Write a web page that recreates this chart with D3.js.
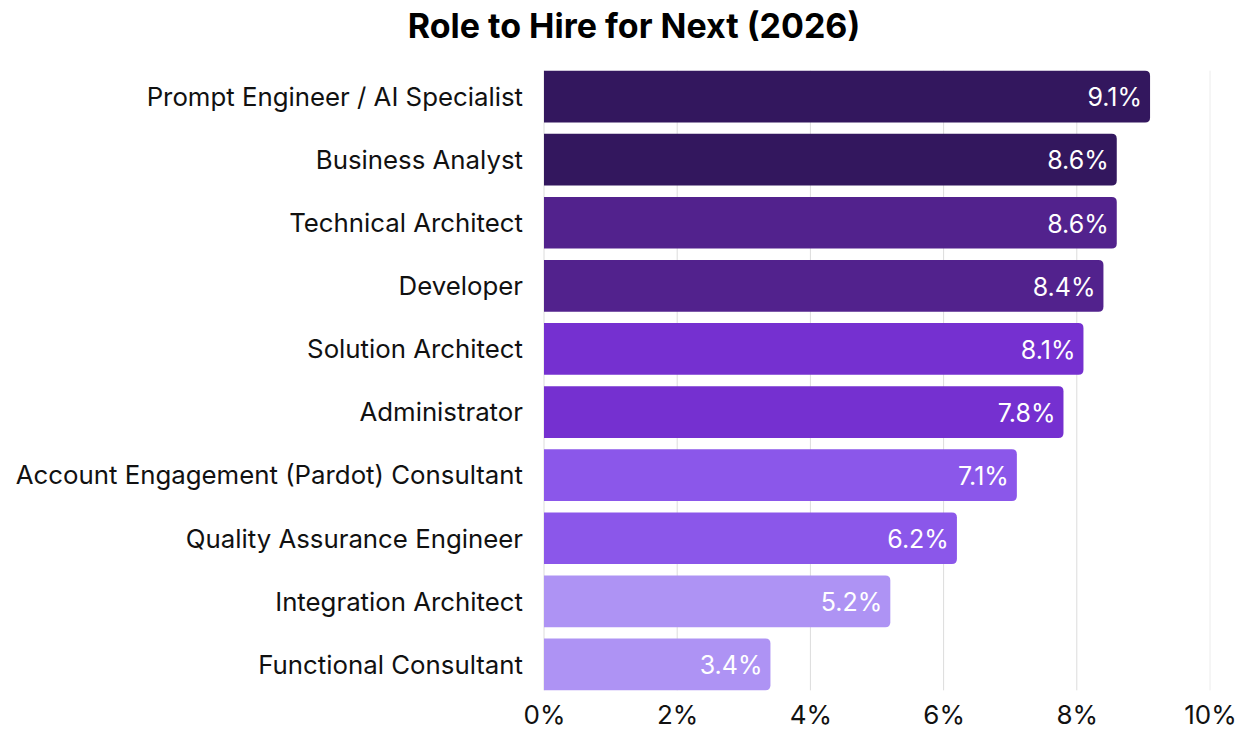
<!DOCTYPE html>
<html>
<head>
<meta charset="utf-8">
<script src="https://cdn.jsdelivr.net/npm/d3@7"></script>
<style>
  html, body { margin: 0; padding: 0; background: #fff; }
  svg { display: block; font-family: Inter, "Noto Sans", sans-serif; }
</style>
</head>
<body>
<div id="chart"></div>
<script>
var roles = [
    "Prompt Engineer / AI Specialist",
    "Business Analyst",
    "Technical Architect",
    "Developer",
    "Solution Architect",
    "Administrator",
    "Account Engagement (Pardot) Consultant",
    "Quality Assurance Engineer",
    "Integration Architect",
    "Functional Consultant"
];
var shares = [9.1, 8.6, 8.6, 8.4, 8.1, 7.8, 7.1, 6.2, 5.2, 3.4];
var barColors = ["#33175e", "#33175e", "#52228d", "#52228d", "#7530d0",
                 "#7530d0", "#8b57ea", "#8b57ea", "#ae93f4", "#ae93f4"];
var xTicks = [0, 2, 4, 6, 8, 10];

function init()
{
    var w = 1250;
    var h = 750;
    var left = 544, right = 1210;
    var radius = 5;

    var svg = d3.select("#chart")
                .append("svg")
                .attr("width", w)
                .attr("height", h);

    var xScale = d3.scaleLinear()
                    .domain([0, 10])
                    .range([left, right]);

    var yScale = d3.scaleBand()
                    .domain(roles)
                    .range([65, 696])
                    .paddingInner(0.18)
                    .paddingOuter(0.09);

    var gridTop = yScale(roles[0]);
    var gridBottom = yScale(roles[roles.length - 1]) + yScale.bandwidth();

    // title
    svg.append("text")
       .attr("x", 634)
       .attr("y", 38)
       .attr("text-anchor", "middle")
       .attr("font-size", "34px")
       .attr("font-weight", "bold")
       .attr("fill", "#000")
       .text("Role to Hire for Next (2026)");

    // grid
    svg.append("g")
       .selectAll("line")
       .data(xTicks)
       .enter()
       .append("line")
       .attr("x1", function(d) { return xScale(d); })
       .attr("x2", function(d) { return xScale(d); })
       .attr("y1", gridTop)
       .attr("y2", gridBottom)
       .attr("stroke", function(d) { return d === 10 ? "#ececec" : "#dcdcdc"; })
       .attr("stroke-width", 1);

    // x axis labels
    var xAxis = d3.axisBottom(xScale)
                  .tickValues(xTicks)
                  .tickSize(0)
                  .tickPadding(0)
                  .tickFormat(function(d) { return d + "%"; });

    var gx = svg.append("g")
                .attr("transform", "translate(0," + (gridBottom + 15) + ")")
                .call(xAxis);
    gx.select(".domain").remove();
    gx.selectAll("text")
      .attr("font-family", "Inter, 'Noto Sans', sans-serif")
      .attr("font-size", "26px")
      .attr("fill", "#111");

    // y axis labels
    var yAxis = d3.axisLeft(yScale)
                  .tickSize(0)
                  .tickPadding(21);

    var gy = svg.append("g")
                .attr("transform", "translate(" + left + ",1)")
                .call(yAxis);
    gy.select(".domain").remove();
    gy.selectAll("text")
      .attr("font-family", "Inter, 'Noto Sans', sans-serif")
      .attr("font-size", "25.8px")
      .attr("fill", "#111");

    // bars, rounded on the right end only
    var barPath = function(d, i) {
        var x0 = xScale(0), x1 = xScale(d);
        var y0 = yScale(roles[i]), bh = yScale.bandwidth();
        var r = Math.min(radius, (x1 - x0) / 2);
        return "M" + x0 + "," + y0 +
               "H" + (x1 - r) +
               "Q" + x1 + "," + y0 + " " + x1 + "," + (y0 + r) +
               "V" + (y0 + bh - r) +
               "Q" + x1 + "," + (y0 + bh) + " " + (x1 - r) + "," + (y0 + bh) +
               "H" + x0 + "Z";
    };

    svg.append("g")
       .selectAll("path")
       .data(shares)
       .enter()
       .append("path")
       .attr("d", barPath)
       .attr("fill", function(d, i) { return barColors[i]; });

    // value labels
    svg.append("g")
       .selectAll("text")
       .data(shares)
       .enter()
       .append("text")
       .attr("x", function(d) { return xScale(d) - 8; })
       .attr("y", function(d, i) { return yScale(roles[i]) + yScale.bandwidth() / 2 + 1; })
       .attr("dy", "0.35em")
       .attr("text-anchor", "end")
       .attr("font-size", "25px")
       .attr("fill", "#fff")
       .text(function(d) { return d.toFixed(1) + "%"; });
}
window.onload = init;
</script>
</body>
</html>
